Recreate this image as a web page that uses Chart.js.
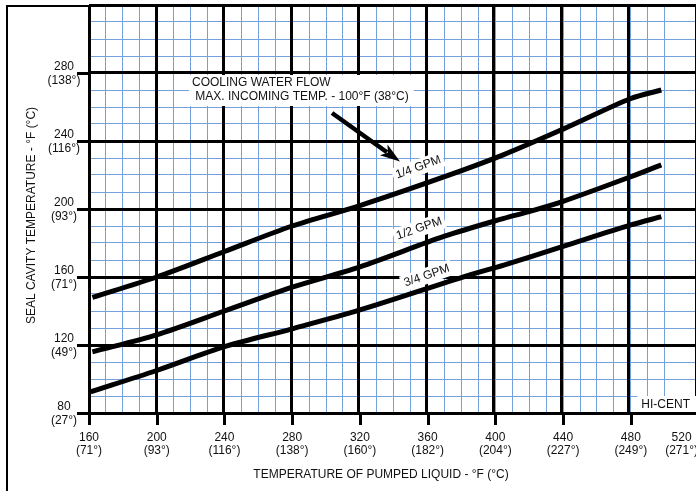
<!DOCTYPE html>
<html><head><meta charset="utf-8">
<script src="https://cdn.jsdelivr.net/npm/chart.js@4/dist/chart.umd.min.js"></script>
<style>html,body{margin:0;padding:0;background:#fff;overflow:hidden}#wrap{width:696px;height:491px;position:relative}</style>
</head><body><div id="wrap"><canvas id="c" width="696" height="491"></canvas></div>
<script>
// ---- data ----
const xTickValues = [160,200,240,280,320,360,400,440,480,520];
const xTickCelsius = ['(71°)','(93°)','(116°)','(138°)','(160°)','(182°)','(204°)','(227°)','(249°)','(271°)'];
const yTickValues = [80,120,160,200,240,280];
const yTickCelsius = ['(27°)','(49°)','(71°)','(93°)','(116°)','(138°)'];
const seriesNames = ['1/4 GPM','1/2 GPM','3/4 GPM'];
const quarterX = [162,200,240,280,320,370,405,440,480,498];
const quarterY = [148,160,175,190,202,219,232,247,265,270];
const halfX = [162,200,240,280,320,370,405,420,440,480,498];
const halfY = [116,126,140,154,166,184,194.5,198.5,204.5,219,226];
const threeQX = [161,200,240,280,320,384,405,440,480,498];
const threeQY = [92.5,105,119,129.5,140.6,161,167,178,190.6,195.5];
const xTitle = 'TEMPERATURE OF PUMPED LIQUID - °F (°C)';
const yTitle = 'SEAL CAVITY TEMPERATURE - °F (°C)';
const noteLines = ['COOLING WATER FLOW',' MAX. INCOMING TEMP. - 100°F (38°C)'];
const brand = 'HI-CENT';

// ---- layout / style ----
const X_MIN=160, X_MAX=518.5, Y_MIN=80, Y_MAX=320;
const FONT = '12px "Liberation Sans", Arial, sans-serif';
const TXT = '#111';
const MINOR = '#74a0dc';
const labelPos = [ {x:354.5,y:224.5,rot:-20}, {x:355,y:188.5,rot:-19}, {x:359.5,y:160.8,rot:-19} ];

function pts(xs, ys){ return xs.map((x,i)=>({x:x, y:ys[i]})); }

const decor = {
  id:'decor',
  beforeDatasetsDraw(chart){
    const ctx = chart.ctx, xs = chart.scales.x, ys = chart.scales.y;
    ctx.save();
    ctx.fillStyle = '#fff';
    ctx.font = FONT;
    const nw = Math.max(...noteLines.map(t=>ctx.measureText(t).width));
    ctx.fillRect(189, 75, nw + 8, 31);
    const bw = ctx.measureText(brand).width;
    ctx.fillRect(690 - bw - 4, 396, bw + 10, 16);
    seriesNames.forEach((name,i)=>{
      const p = labelPos[i];
      const cx = xs.getPixelForValue(p.x), cy = ys.getPixelForValue(p.y);
      ctx.save();
      ctx.translate(cx, cy); ctx.rotate(p.rot*Math.PI/180);
      const w = ctx.measureText(name).width;
      ctx.fillRect(-w/2-3, -8, w+6, 16);
      ctx.restore();
    });
    ctx.restore();
  },
  afterDatasetsDraw(chart){
    const ctx = chart.ctx, xs = chart.scales.x, ys = chart.scales.y;
    ctx.save();
    ctx.font = FONT; ctx.fillStyle = TXT; ctx.textBaseline = 'middle';
    ctx.textAlign = 'left';
    ctx.fillText(noteLines[0], 192, 83);
    ctx.fillText(noteLines[1], 192, 97);
    ctx.textAlign = 'right';
    ctx.fillText(brand, 690, 405);
    ctx.textAlign = 'center';
    seriesNames.forEach((name,i)=>{
      const p = labelPos[i];
      const cx = xs.getPixelForValue(p.x), cy = ys.getPixelForValue(p.y);
      ctx.save();
      ctx.translate(cx, cy); ctx.rotate(p.rot*Math.PI/180);
      ctx.fillText(name, 0, 0);
      ctx.restore();
    });
    // arrow
    const x0=332, y0=113, x1=400, y1=161.5;
    const dx=x1-x0, dy=y1-y0, L=Math.hypot(dx,dy), ux=dx/L, uy=dy/L;
    const hl=20, hw=6.5;
    ctx.strokeStyle='#000'; ctx.lineWidth=4.5; ctx.lineCap='butt';
    ctx.beginPath(); ctx.moveTo(x0,y0); ctx.lineTo(x1-ux*hl*0.8, y1-uy*hl*0.8); ctx.stroke();
    ctx.fillStyle='#000';
    ctx.beginPath();
    ctx.moveTo(x1,y1);
    ctx.lineTo(x1-ux*hl - uy*hw, y1-uy*hl + ux*hw);
    ctx.lineTo(x1-ux*hl*0.75, y1-uy*hl*0.75);
    ctx.lineTo(x1-ux*hl + uy*hw, y1-uy*hl - ux*hw);
    ctx.closePath(); ctx.fill();
    ctx.restore();
  },
  afterDraw(chart){
    const ctx = chart.ctx, xs = chart.scales.x, ys = chart.scales.y, ca = chart.chartArea;
    ctx.save();
    ctx.strokeStyle = '#000'; ctx.lineWidth = 2;
    ctx.beginPath(); ctx.moveTo(7, 491); ctx.lineTo(7, 6); ctx.lineTo(ca.left, 6); ctx.stroke();
    ctx.lineWidth = 3;
    yTickValues.forEach(v=>{
      const y = Math.round(ys.getPixelForValue(v)) + 0.5;
      ctx.beginPath(); ctx.moveTo(77, y); ctx.lineTo(ca.left, y); ctx.stroke();
    });
    xTickValues.forEach(v=>{
      if (v > X_MAX) return;
      const x = Math.round(xs.getPixelForValue(v)) + 0.5;
      ctx.beginPath(); ctx.moveTo(x, ca.bottom); ctx.lineTo(x, ca.bottom + 12); ctx.stroke();
    });
    ctx.font = FONT; ctx.fillStyle = TXT; ctx.textBaseline = 'middle'; ctx.textAlign = 'center';
    yTickValues.forEach((v,i)=>{
      const y = ys.getPixelForValue(v);
      ctx.fillText(String(v), 64, y - 6.5);
      ctx.fillText(yTickCelsius[i], 64, y + 8);
    });
    xTickValues.forEach((v,i)=>{
      let x = xs.getPixelForValue(v);
      const w = Math.max(ctx.measureText(String(v)).width, ctx.measureText(xTickCelsius[i]).width);
      x = Math.min(x, chart.width - w/2 + 2);
      ctx.fillText(String(v), x, 438);
      ctx.fillText(xTickCelsius[i], x, 451);
    });
    ctx.fillText(xTitle, 381, 475);
    ctx.save();
    ctx.translate(32, 215.5); ctx.rotate(-Math.PI/2);
    ctx.fillText(yTitle, 0, 0);
    ctx.restore();
    ctx.restore();
  }
};

const lineStyle = {borderColor:'#000', borderWidth:5, pointRadius:0, tension:0.3, fill:false, borderCapStyle:'butt', borderJoinStyle:'round'};

new Chart(document.getElementById('c'), {
  type:'line',
  data:{ datasets:[
    Object.assign({label:seriesNames[0], data:pts(quarterX, quarterY)}, lineStyle),
    Object.assign({label:seriesNames[1], data:pts(halfX, halfY)}, lineStyle),
    Object.assign({label:seriesNames[2], data:pts(threeQX, threeQY)}, lineStyle)
  ]},
  options:{
    responsive:false, animation:false, devicePixelRatio:1,
    layout:{padding:{left:89, top:5, right:0, bottom:78}},
    plugins:{legend:{display:false}, tooltip:{enabled:false}},
    scales:{
      x:{type:'linear', min:X_MIN, max:X_MAX, z:-2,
         ticks:{display:false, stepSize:10}, border:{display:false},
         grid:{color:MINOR, lineWidth:1, drawTicks:false}},
      y:{type:'linear', min:Y_MIN, max:Y_MAX, z:-2,
         ticks:{display:false, stepSize:10}, border:{display:false},
         grid:{color:MINOR, lineWidth:1, drawTicks:false}},
      x2:{type:'linear', position:'bottom', min:X_MIN, max:X_MAX, z:-1,
         ticks:{display:false, stepSize:40}, border:{display:false},
         grid:{color:'#000', lineWidth:3, drawTicks:false}},
      y2:{type:'linear', position:'left', min:Y_MIN, max:Y_MAX, z:-1,
         ticks:{display:false, stepSize:40}, border:{display:false},
         grid:{color:'#000', lineWidth:3, drawTicks:false}}
    }
  },
  plugins:[decor]
});
</script></body></html>
